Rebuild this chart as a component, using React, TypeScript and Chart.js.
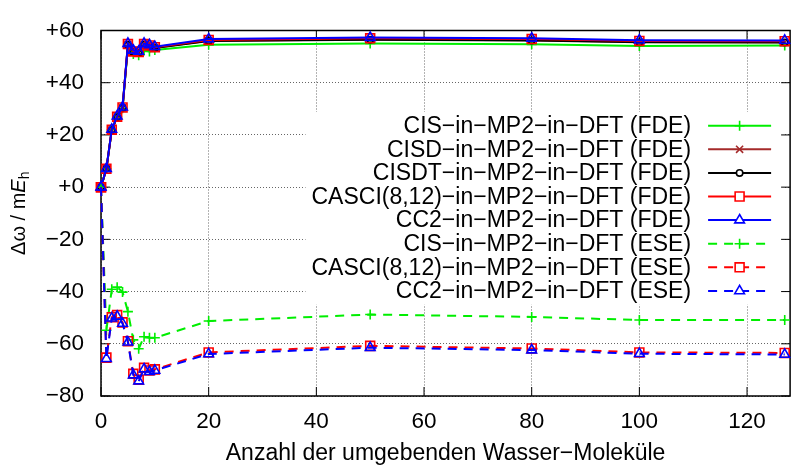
import React, { useEffect, useRef } from 'react';
import { Chart, registerables } from 'chart.js';
import { drawPoint } from 'chart.js/helpers';

Chart.register(...registerables);

// ---------- data ----------
const xValues = [0, 1, 2, 3, 4, 5, 6, 7, 8, 9, 10, 20, 50, 80, 100, 127];

const cisFDE = [0, 7, 22, 27, 30.2, 53.8, 51, 50.5, 52.3, 52, 52.5, 54.5, 55, 54.7, 54.1, 54.3];
const cisdFDE = [0, 7, 21.9, 26.9, 30.4, 54.6, 51.9, 51.6, 54.6, 54.1, 53.4, 56.1, 56.6, 56.3, 55.6, 55.5];
const cisdtFDE = [0, 7, 21.8, 26.8, 30.3, 54.5, 51.8, 51.5, 54.5, 54, 53.3, 56, 56.5, 56.2, 55.5, 55.4];
const casciFDE = [0, 7, 22, 27, 30.5, 54.8, 52, 51.8, 54.8, 54.3, 53.6, 56.4, 57, 56.7, 56, 55.9];
const cc2FDE = [0, 7.1, 22.1, 27.2, 30.6, 55, 52.4, 52, 55, 54.5, 53.8, 56.7, 57.3, 57, 56.3, 56.2];
const cisESE = [0, -54.8, -39.1, -38.3, -40.2, -47.7, -58.5, -61.9, -57.3, -57.7, -57.7, -51.3, -48.8, -49.7, -50.9, -50.9];
const casciESE = [0, -65.3, -49.8, -49, -51.8, -59, -71.5, -73.8, -69.2, -70.2, -69.8, -63.3, -60.8, -61.8, -63.3, -63.5];
const cc2ESE = [0, -65.7, -50.2, -49.5, -52.2, -59.4, -72, -74.3, -69.7, -70.7, -70.2, -63.9, -61.5, -62.4, -63.8, -64.1];

const seriesLabels = [
  'CIS\u2212in\u2212MP2\u2212in\u2212DFT (FDE)',
  'CISD\u2212in\u2212MP2\u2212in\u2212DFT (FDE)',
  'CISDT\u2212in\u2212MP2\u2212in\u2212DFT (FDE)',
  'CASCI(8,12)\u2212in\u2212MP2\u2212in\u2212DFT (FDE)',
  'CC2\u2212in\u2212MP2\u2212in\u2212DFT (FDE)',
  'CIS\u2212in\u2212MP2\u2212in\u2212DFT (ESE)',
  'CASCI(8,12)\u2212in\u2212MP2\u2212in\u2212DFT (ESE)',
  'CC2\u2212in\u2212MP2\u2212in\u2212DFT (ESE)',
];
const seriesValues = [cisFDE, cisdFDE, cisdtFDE, casciFDE, cc2FDE, cisESE, casciESE, cc2ESE];

const xTicks = [0, 20, 40, 60, 80, 100, 120];
const yTicks = [-80, -60, -40, -20, 0, 20, 40, 60];
const xTitle = 'Anzahl der umgebenden Wasser\u2212Moleküle';

// ---------- styles ----------
const FONT = '"Liberation Sans", Arial, Helvetica, sans-serif';
const GREEN = '#00ee00';
const BROWN = '#a52a2a';
const styles = [
  { color: GREEN, pointStyle: 'cross', radius: 5, dash: [] as number[] },
  { color: BROWN, pointStyle: 'crossRot', radius: 5, dash: [] },
  { color: '#000000', pointStyle: 'circle', radius: 3.2, dash: [] },
  { color: '#ff0000', pointStyle: 'rect', radius: 6.3, dash: [] },
  { color: '#0000ff', pointStyle: 'triangle', radius: 5.6, dash: [] },
  { color: GREEN, pointStyle: 'cross', radius: 5, dash: [9, 7] },
  { color: '#ff0000', pointStyle: 'rect', radius: 6.3, dash: [9, 7] },
  { color: '#0000ff', pointStyle: 'triangle', radius: 5.6, dash: [9, 7] },
];

const fmtY = (v: number) => (v > 0 ? '+' + v : v === 0 ? '+0' : '\u2212' + Math.abs(v));

const framePlugin = {
  id: 'gnuFrame',
  beforeDatasetsDraw(chart: any) {
    const { ctx, chartArea: a, scales } = chart;
    ctx.save();
    // legend box + legend
    ctx.font = `23px ${FONT}`;
    const ds = chart.data.datasets;
    const textRight = a.right - 99;
    const sampleL = a.right - 82;
    const sampleR = a.right - 19;
    const rowH = 23.6;
    const firstY = 125.7;
    let maxW = 0;
    ds.forEach((d: any) => { maxW = Math.max(maxW, ctx.measureText(d.label).width); });
    const boxL = textRight - maxW - 6;
    ctx.fillStyle = '#ffffff';
    ctx.fillRect(boxL, firstY - rowH / 2 - 2, a.right - 5 - boxL, rowH * ds.length + 4);
    ds.forEach((d: any, i: number) => {
      const y = firstY + i * rowH;
      ctx.fillStyle = '#000';
      ctx.textAlign = 'right';
      ctx.textBaseline = 'middle';
      ctx.fillText(d.label, textRight, y + 1);
      ctx.strokeStyle = d.borderColor;
      ctx.lineWidth = d.borderWidth;
      ctx.setLineDash(d.borderDash || []);
      ctx.beginPath();
      ctx.moveTo(sampleL, y);
      ctx.lineTo(sampleR, y);
      ctx.stroke();
      ctx.setLineDash([]);
      ctx.lineWidth = d.pointBorderWidth;
      ctx.fillStyle = '#ffffff';
      drawPoint(ctx, { pointStyle: d.pointStyle, radius: d.pointRadius, rotation: 0, borderWidth: d.pointBorderWidth } as any, (sampleL + sampleR) / 2, y);
    });
    // border
    ctx.setLineDash([]);
    ctx.strokeStyle = '#000';
    ctx.lineWidth = 1.5;
    ctx.strokeRect(a.left, a.top, a.right - a.left, a.bottom - a.top);
    // inward ticks
    const tl = 9;
    ctx.lineWidth = 1;
    ctx.beginPath();
    xTicks.forEach((t) => {
      const px = scales.x.getPixelForValue(t);
      ctx.moveTo(px, a.bottom); ctx.lineTo(px, a.bottom - tl);
      ctx.moveTo(px, a.top); ctx.lineTo(px, a.top + tl);
    });
    yTicks.forEach((t) => {
      const py = scales.y.getPixelForValue(t);
      ctx.moveTo(a.left, py); ctx.lineTo(a.left + tl, py);
      ctx.moveTo(a.right, py); ctx.lineTo(a.right - tl, py);
    });
    ctx.stroke();
    ctx.restore();
  },
  afterDraw(chart: any) {
    const { ctx, chartArea: a } = chart;
    ctx.save();
    ctx.fillStyle = '#000';
    ctx.font = `23px ${FONT}`;
    ctx.textAlign = 'center';
    ctx.textBaseline = 'middle';
    ctx.fillText(xTitle, (a.left + a.right) / 2, 454);
    // y title: Δω / mE_h
    const p1 = '\u0394\u03c9 / m';
    const p2 = 'E';
    const p3 = 'h';
    ctx.translate(25, (a.top + a.bottom) / 2);
    ctx.rotate(-Math.PI / 2);
    ctx.textAlign = 'left';
    ctx.textBaseline = 'alphabetic';
    ctx.font = `20px ${FONT}`;
    const w1 = ctx.measureText(p1).width;
    ctx.font = `italic 20px ${FONT}`;
    const w2 = ctx.measureText(p2).width;
    ctx.font = `14px ${FONT}`;
    const w3 = ctx.measureText(p3).width;
    let x = -(w1 + w2 + w3) / 2;
    ctx.font = `20px ${FONT}`;
    ctx.fillText(p1, x, 0);
    x += w1;
    ctx.font = `italic 20px ${FONT}`;
    ctx.fillText(p2, x, 0);
    x += w2;
    ctx.font = `14px ${FONT}`;
    ctx.fillText(p3, x, 4);
    ctx.restore();
  },
};

export default function App() {
  const ref = useRef<HTMLCanvasElement>(null);
  useEffect(() => {
    if (!ref.current) return;
    const datasets = seriesValues.map((vals, i) => {
      const s = styles[i];
      return {
        label: seriesLabels[i],
        data: xValues.map((x, j) => ({ x, y: vals[j] })),
        borderColor: s.color,
        backgroundColor: s.color,
        borderWidth: 2,
        borderDash: s.dash,
        pointStyle: s.pointStyle,
        pointRadius: s.radius,
        pointBorderWidth: 1.6,
        pointBorderColor: s.color,
        pointBackgroundColor: 'rgba(0,0,0,0)',
        tension: 0,
        clip: false as any,
        order: seriesValues.length - i,
      };
    });
    const chart = new Chart(ref.current, {
      type: 'line',
      data: { datasets },
      options: {
        animation: false,
        responsive: false,
        devicePixelRatio: 1,
        layout: { padding: { left: 0, right: 1, top: 20, bottom: 0 } },
        plugins: { legend: { display: false }, tooltip: { enabled: false } },
        scales: {
          x: {
            type: 'linear',
            min: 0,
            max: 128,
            afterFit: (s: any) => { s.height = 71; },
            grid: { color: 'rgba(0,0,0,0.6)', lineWidth: 1, drawTicks: false },
            border: { display: false, dash: [1, 2] },
            ticks: {
              stepSize: 20,
              includeBounds: false,
              padding: 12,
              color: '#000',
              font: { family: FONT, size: 22.5 },
              maxRotation: 0,
            },
          },
          y: {
            type: 'linear',
            min: -80,
            max: 60,
            afterFit: (s: any) => { s.width = 101; },
            grid: { color: 'rgba(0,0,0,0.6)', lineWidth: 1, drawTicks: false },
            border: { display: false, dash: [1, 2] },
            ticks: {
              stepSize: 20,
              padding: 17,
              color: '#000',
              font: { family: FONT, size: 22.5 },
              callback: (v: any) => fmtY(Number(v)),
            },
          },
        },
      },
      plugins: [framePlugin],
    });
    return () => chart.destroy();
  }, []);
  return (
    <div style={{ position: 'absolute', left: 0, top: 0, width: 798, height: 467, background: '#fff' }}>
      <canvas ref={ref} width={798} height={467} style={{ display: 'block' }} />
    </div>
  );
}
